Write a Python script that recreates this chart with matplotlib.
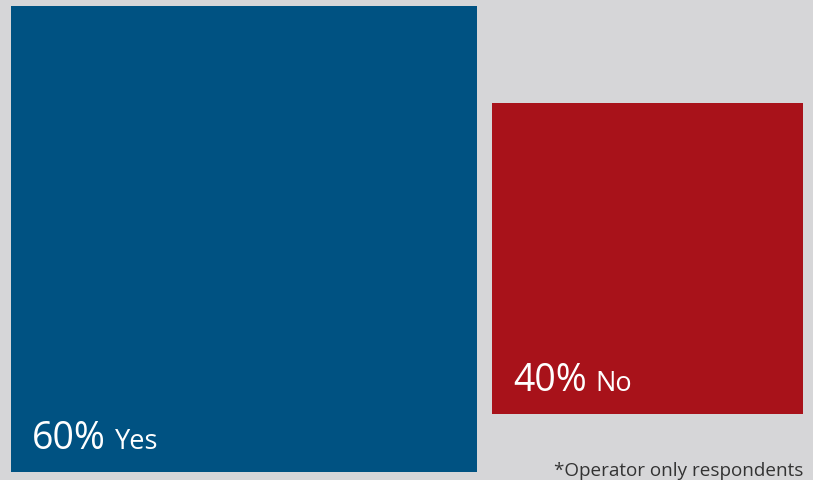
import matplotlib
matplotlib.use("Agg")
import matplotlib.pyplot as plt
from matplotlib.patches import Rectangle

# Survey answers (percent of respondents)
answers = ["Yes", "No"]
shares = [60, 40]
colors = ["#005282", "#a8121a"]
footnote = "*Operator only respondents"

W, H = 813, 481
fig = plt.figure(figsize=(W / 100, H / 100), dpi=100)
fig.patch.set_facecolor("#d6d6d8")
ax = fig.add_axes([0, 0, 1, 1])
ax.set_xlim(0, W)
ax.set_ylim(H, 0)
ax.axis("off")

# Square side is proportional to the share
px_per_pct = 466 / 60
lefts = [11, 492]
bottoms = [473, 415]

fig.canvas.draw()
renderer = fig.canvas.get_renderer()
for ans, val, col, x0, y1 in zip(answers, shares, colors, lefts, bottoms):
    side = val * px_per_pct
    ax.add_patch(Rectangle((x0, y1 - side), side, side, facecolor=col,
                           edgecolor="none"))
    base = y1 - 24
    t = ax.text(x0 + 21, base, f"{val}%", color="white", fontsize=27,
                family="Open Sans", ha="left", va="baseline")
    bb = t.get_window_extent(renderer)
    x_end = ax.transData.inverted().transform((bb.x1, bb.y0))[0]
    ax.text(x_end + 9, base, ans, color="white", fontsize=19.5,
            family="Open Sans", ha="left", va="baseline")

ax.text(803, 476, footnote, color="#333333", fontsize=13.6, family="Open Sans",
        ha="right", va="baseline")

fig.savefig("out.png", dpi=100, facecolor=fig.get_facecolor())
